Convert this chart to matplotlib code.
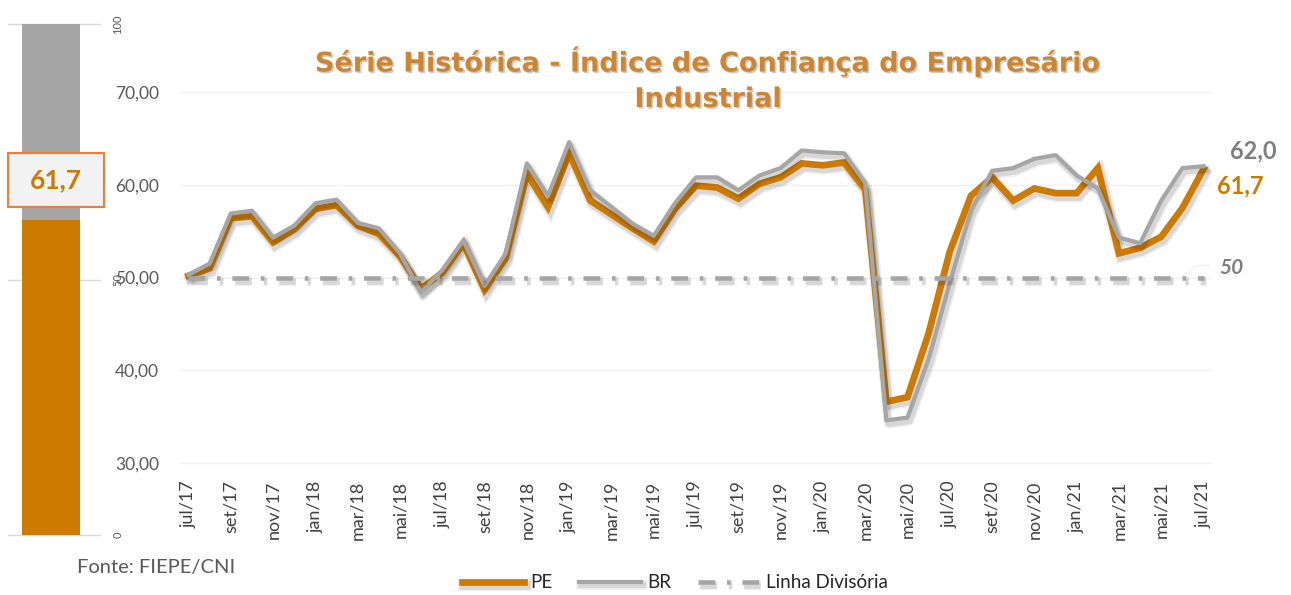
import matplotlib
matplotlib.use("Agg")
from matplotlib import pyplot as plt
from matplotlib.patches import Rectangle
import matplotlib.patheffects as pe
import numpy as np

plt.rcParams['font.family'] = ['Lato', 'DejaVu Sans']
plt.rcParams['lines.scale_dashes'] = False

# dados
pe_vals = [50.2, 51.0, 56.4, 56.6, 53.8, 55.2, 57.4, 57.8, 55.6, 54.7,
           52.3, 48.8, 50.5, 53.7, 48.7, 52.1, 61.2, 57.6, 63.4, 58.3,
           56.8, 55.3, 53.9, 57.4, 59.9, 59.7, 58.5, 60.1, 60.8, 62.3,
           62.1, 62.4, 59.5, 36.6, 37.1, 44.0, 52.8, 58.8, 60.8, 58.3,
           59.6, 59.1, 59.1, 61.8, 52.6, 53.2, 54.4, 57.5, 61.7]
br_vals = [50.3, 51.5, 56.9, 57.2, 54.3, 55.6, 58.0, 58.4, 55.9, 55.3,
           52.6, 48.4, 50.8, 54.0, 49.1, 52.6, 62.3, 58.8, 64.6, 59.4,
           57.6, 55.8, 54.5, 58.0, 60.8, 60.8, 59.4, 61.0, 61.8, 63.7,
           63.5, 63.4, 60.2, 34.6, 34.9, 41.2, 49.4, 57.2, 61.5, 61.8,
           62.8, 63.2, 61.0, 59.6, 54.3, 53.7, 58.3, 61.8, 62.0]
divisoria = 50
tick_labels = ['jul/17', 'set/17', 'nov/17', 'jan/18', 'mar/18', 'mai/18',
               'jul/18', 'set/18', 'nov/18', 'jan/19', 'mar/19', 'mai/19',
               'jul/19', 'set/19', 'nov/19', 'jan/20', 'mar/20', 'mai/20',
               'jul/20', 'set/20', 'nov/20', 'jan/21', 'mar/21', 'mai/21',
               'jul/21']
y_ticks = [30, 40, 50, 60, 70]
gauge_value = 61.7

ORANGE = '#CC7A00'
GRAY = '#A6A6A6'
TXT = '#595959'

fig = plt.figure(figsize=(12.91, 5.95), dpi=100)

# termometro a esquerda
gax = fig.add_axes([8/1291, 1-535/595, 96/1291, 511/595])
gax.set_xlim(0, 96)
gax.set_ylim(0, 100)
gax.axis('off')
for g in [0, 50, 100]:
    gax.plot([0, 92], [g, g], color='#D9D9D9', lw=1, zorder=0, clip_on=False)
gax.bar(43, 100, width=58, color=GRAY, zorder=1)
gax.bar(43, gauge_value, width=58, color=ORANGE, zorder=2)
gax.add_patch(Rectangle((0, 64.2), 96, 10.6, facecolor='#F2F2F2',
                        edgecolor='#ED7D31', lw=1.5, zorder=5, clip_on=False))
gax.text(48, 69.5, f"{gauge_value:.1f}".replace('.', ','), ha='center', va='center',
         fontsize=19, fontweight='bold', color=ORANGE, zorder=6)
for g in [0, 50, 100]:
    gax.text(110, g, str(g), rotation=90, ha='center', va='center',
             fontsize=8, color=TXT, clip_on=False)

# grafico principal
ax = fig.add_axes([180/1291, 1-469.5/595, 1032/1291, (469.5-17.8)/595])
x = np.arange(len(pe_vals))
ax.set_xlim(-0.4, 48.4)
ax.set_ylim(29.3, 78)

def sombra(lw):
    return [pe.SimpleLineShadow(offset=(1.5, -2.5), shadow_color='black', alpha=0.06, linewidth=lw + 4),
            pe.SimpleLineShadow(offset=(1.5, -2.5), shadow_color='black', alpha=0.1, linewidth=lw + 1.5),
            pe.Normal()]

ax.plot(x, pe_vals, color=ORANGE, lw=4.8, solid_joinstyle='miter', zorder=3,
        path_effects=sombra(4.8), label='PE')
ax.plot(x, br_vals, color=GRAY, lw=3.0, zorder=4, path_effects=sombra(3.0), label='BR')
ax.plot(x, [divisoria]*len(x), color=GRAY, lw=3.3, dashes=(12, 8.5, 2.6, 8.5),
        zorder=5, path_effects=sombra(3.3), label='Linha Divisória')

ax.set_yticks(y_ticks)
ax.set_yticklabels([f"{v},00" for v in y_ticks])
ax.set_xticks(x[::2])
ax.set_xticklabels(tick_labels, rotation=90)
ax.tick_params(axis='y', length=0, pad=15, labelsize=12.5, labelcolor=TXT)
ax.tick_params(axis='x', length=0, pad=8, labelsize=13, labelcolor='#404040')
ax.grid(axis='y', color='#F2F2F2', lw=1)
ax.set_axisbelow(True)
for s in ax.spines.values():
    s.set_visible(False)

# rotulos de dados
ax.annotate(f"{br_vals[-1]:.1f}".replace('.', ','), (x[-1], br_vals[-1]),
            xytext=(19, 11), textcoords='offset points', ha='left', va='center',
            fontsize=17, fontweight='bold', color='#7F7F7F', annotation_clip=False)
ax.annotate(f"{pe_vals[-1]:.1f}".replace('.', ','), (x[-1], pe_vals[-1]),
            xytext=(10, -12), textcoords='offset points', ha='left', va='center',
            fontsize=17, fontweight='bold', color=ORANGE, annotation_clip=False)
ax.plot([46.9, 47.7, 48.3], [divisoria, divisoria + 1.3, divisoria + 1.3],
        color='#EFEFEF', lw=0.8, zorder=2, clip_on=False)
ax.text(48.75, divisoria + 1.0, str(divisoria), ha='left', va='center', fontsize=15,
        fontweight='bold', fontstyle='italic', color='#7F7F7F')

titulo_fx = [pe.SimplePatchShadow(offset=(1.2, -1.2), shadow_rgbFace='black', alpha=0.2),
             pe.Normal()]
fig.text(708/1291, 1-62/595, "Série Histórica - Índice de Confiança do Empresário",
         ha='center', va='center', fontsize=19.5, fontweight='bold', color='#CD8530',
         family=['DejaVu Sans'], path_effects=titulo_fx)
fig.text(708/1291, 1-100/595, "Industrial", ha='center', va='center', fontsize=19.5,
         fontweight='bold', color='#CD8530', family=['DejaVu Sans'], path_effects=titulo_fx)

fig.text(77/1291, 1-568/595, "Fonte: FIEPE/CNI", ha='left', va='center',
         fontsize=14.5, color=TXT)

fig.legend(loc='center', bbox_to_anchor=(675/1291, 1-583/595), ncol=3, frameon=False,
           fontsize=13.5, handlelength=3.3, columnspacing=1.4, handletextpad=0.35,
           labelcolor='#262626')

fig.savefig('out.png', dpi=100)
